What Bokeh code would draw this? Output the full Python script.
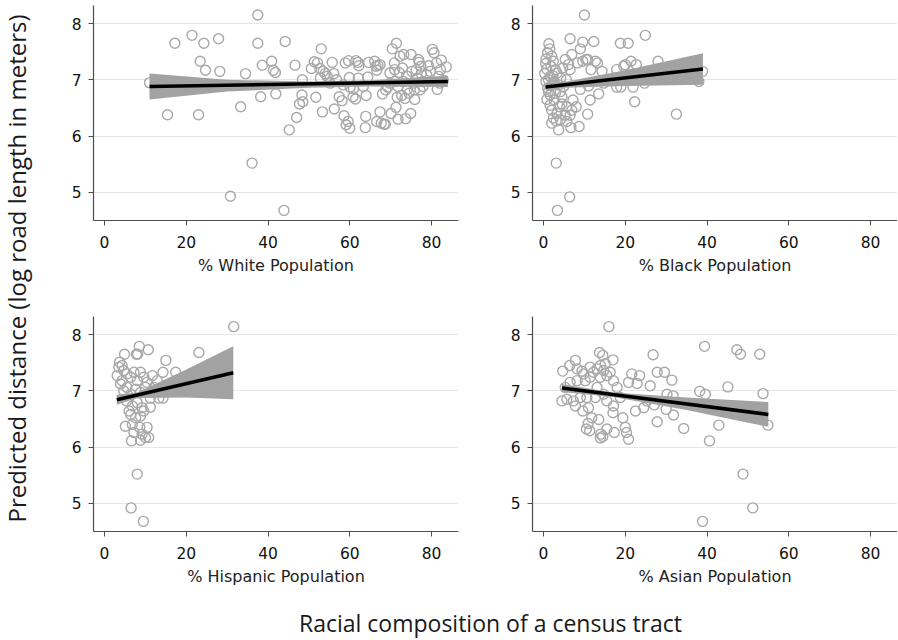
from bokeh.plotting import figure
from bokeh.layouts import row, column
from bokeh.models import Label, FixedTicker, Range1d
from bokeh.embed import file_html
from bokeh.resources import INLINE

# ---------------- data ----------------
x_ticks = [0, 20, 40, 60, 80]
y_ticks = [5, 6, 7, 8]

white_x = [37.5, 21.4, 17.2, 24.3, 27.9, 37.5, 44.2, 53.0, 23.4, 24.7, 28.2, 34.5, 38.6, 40.9, 41.3, 41.8,
           46.6, 11.0, 15.4, 23.0, 33.3, 38.2, 41.9, 36.1, 30.8, 43.9, 45.2, 47.0, 47.7, 48.5, 48.3, 48.4,
           50.6, 51.3, 52.1, 52.7, 51.7, 53.3, 53.5, 54.0, 54.5, 55.7, 56.1, 56.2, 57.4, 58.1, 58.6, 59.1,
           59.6, 60.0, 58.9, 59.7, 59.9, 60.1, 60.8, 60.9, 61.4, 61.5, 62.0, 62.2, 62.1, 63.3, 64.0, 63.9,
           63.8, 64.4, 64.6, 66.1, 66.4, 66.6, 66.9, 66.6, 67.4, 67.4, 67.7, 68.0, 68.4, 68.7, 68.8, 69.3,
           69.8, 70.1, 70.4, 70.9, 71.0, 71.1, 71.3, 71.4, 71.6, 71.8, 71.8, 72.1, 72.3, 72.7, 72.9, 73.2,
           73.5, 73.7, 73.9, 74.1, 74.5, 74.9, 75.0, 75.2, 75.5, 75.8, 75.9, 76.2, 76.5, 76.8, 77.0, 77.2,
           77.4, 77.5, 77.9, 78.8, 79.3, 79.7, 80.2, 80.6, 81.2, 81.4, 81.8, 82.2, 82.4, 82.9, 83.6, 82.0,
           52.8, 55.2, 56.8, 58.4, 69.8, 73.1, 77.9]
white_y = [8.15, 7.79, 7.65, 7.65, 7.73, 7.65, 7.68, 7.55, 7.33, 7.17, 7.15, 7.11, 7.26, 7.33, 7.17, 7.13,
           7.26, 6.95, 6.38, 6.38, 6.52, 6.70, 6.75, 5.52, 4.93, 4.68, 6.11, 6.33, 6.57, 6.61, 6.73, 7.00,
           7.20, 7.32, 7.30, 7.20, 6.69, 6.43, 7.15, 7.11, 7.06, 7.31, 7.11, 6.48, 6.70, 6.63, 6.36, 6.20,
           6.26, 6.14, 7.30, 7.34, 7.04, 6.87, 6.70, 6.84, 6.66, 7.34, 7.31, 7.25, 7.03, 6.88, 6.72, 6.35,
           6.15, 7.05, 7.31, 7.33, 7.24, 7.17, 7.26, 6.26, 7.27, 6.43, 6.23, 6.75, 6.21, 6.21, 6.82, 6.87,
           7.12, 6.40, 7.55, 7.30, 7.18, 6.97, 6.51, 7.65, 6.69, 6.88, 6.30, 7.13, 7.42, 6.72, 7.21, 7.45,
           6.67, 6.31, 7.07, 6.83, 6.76, 6.40, 7.45, 7.15, 6.94, 6.82, 6.65, 7.18, 7.03, 7.36, 7.31, 6.82,
           7.24, 7.11, 6.97, 7.09, 7.25, 7.15, 7.54, 7.48, 7.30, 6.83, 7.06, 7.18, 7.35, 6.99, 7.23, 6.94,
           7.03, 6.94, 7.00, 6.91, 6.94, 6.97, 6.88]

black_x = [10.0, 6.5, 9.6, 12.3, 18.8, 20.7, 24.9, 1.3, 1.5, 1.0, 0.6, 0.5, 0.8, 0.3, 0.6, 1.0,
           0.8, 1.6, 2.0, 2.3, 1.8, 2.4, 2.9, 2.6, 2.0, 2.4, 2.0, 3.1, 3.7, 3.3, 3.9, 3.1,
           6.4, 3.4, 4.5, 4.9, 4.2, 4.7, 5.3, 6.1, 6.5, 5.6, 5.7, 6.5, 6.7, 6.9, 7.2, 6.9,
           8.0, 8.7, 9.0, 8.3, 9.0, 9.6, 10.4, 10.8, 10.8, 11.0, 11.4, 11.6, 12.7, 13.2, 13.5, 14.3,
           14.7, 17.9, 17.9, 18.9, 19.6, 20.0, 21.4, 21.9, 22.3, 22.7, 24.7, 28.0, 32.5, 38.9, 38.0, 28.6,
           23.7, 1.2, 1.6, 2.4, 3.3, 3.7, 4.1, 2.9, 1.6, 1.2, 2.0, 2.6, 4.5, 5.3, 4.1, 5.7]
black_y = [8.15, 7.73, 7.67, 7.68, 7.65, 7.65, 7.79, 7.64, 7.55, 7.48, 7.37, 7.29, 7.19, 7.11, 6.97, 6.85,
           6.65, 6.73, 6.91, 7.07, 7.24, 7.33, 7.18, 6.64, 6.46, 6.32, 6.23, 6.27, 6.11, 6.40, 6.52, 5.52,
           4.92, 4.68, 6.70, 6.88, 7.03, 7.21, 7.36, 7.27, 7.18, 7.00, 6.52, 6.37, 6.15, 6.46, 6.64, 7.45,
           6.52, 6.17, 7.55, 7.30, 6.83, 7.33, 7.36, 7.36, 6.39, 6.89, 6.64, 7.18, 7.33, 7.30, 6.75, 7.15,
           6.94, 7.18, 6.87, 6.87, 7.24, 7.27, 7.33, 6.87, 6.61, 7.27, 6.94, 7.33, 6.39, 7.15, 6.97, 7.06,
           7.00, 7.00, 7.06, 6.94, 7.12, 6.91, 6.79, 6.76, 6.55, 6.79, 7.42, 6.97, 6.57, 6.37, 6.29, 6.26]

hisp_x = [31.6, 23.1, 8.5, 7.8, 8.1, 10.7, 4.9, 15.0, 17.4, 14.3, 11.7, 3.1, 3.7, 4.3, 4.7, 5.5,
          6.4, 7.2, 8.8, 9.6, 10.4, 12.9, 13.3, 14.3, 11.2, 3.9, 4.7, 5.5, 6.4, 7.6, 8.8, 10.0,
          5.4, 6.8, 8.0, 9.2, 11.2, 6.4, 7.6, 8.8, 5.1, 6.8, 8.6, 10.4, 7.2, 9.2, 6.6, 8.8,
          10.0, 10.8, 8.0, 6.5, 9.5, 3.5, 4.3, 8.0, 9.6, 6.0, 12.1]
hisp_y = [8.14, 7.68, 7.79, 7.65, 7.65, 7.73, 7.65, 7.54, 7.33, 7.33, 7.27, 7.27, 7.51, 7.45, 7.36, 7.30,
          7.24, 7.33, 7.33, 7.24, 7.15, 7.18, 6.87, 6.87, 6.87, 7.12, 7.00, 7.06, 6.94, 7.03, 6.97, 7.06,
          6.82, 6.73, 6.79, 6.70, 6.71, 6.58, 6.52, 6.55, 6.37, 6.40, 6.35, 6.35, 6.26, 6.23, 6.11, 6.12,
          6.17, 6.17, 5.52, 4.92, 4.68, 7.42, 7.18, 7.18, 6.64, 6.64, 7.06]

asian_x = [16.0, 39.4, 47.3, 48.2, 52.9, 26.8, 13.7, 14.5, 17.0, 7.8, 6.4, 4.7, 8.2, 9.4, 27.8, 29.6,
           21.6, 23.5, 31.4, 20.8, 22.9, 26.1, 45.1, 38.2, 39.6, 53.7, 31.7, 27.1, 24.5, 30.0, 31.8, 22.5,
           27.8, 34.3, 42.9, 54.9, 40.6, 48.8, 51.2, 38.9, 17.1, 17.0, 19.4, 20.0, 20.3, 20.8, 17.3, 15.5,
           14.0, 13.9, 14.5, 13.5, 10.9, 10.5, 11.3, 9.6, 11.0, 11.8, 4.5, 5.7, 7.3, 9.0, 7.8, 5.3,
           6.5, 8.2, 10.2, 11.4, 12.2, 13.1, 13.9, 14.7, 15.5, 16.3, 17.1, 13.9, 13.1, 14.7, 12.7, 15.5,
           10.6, 18.0, 18.8, 25.3, 30.2, 11.4, 15.1, 9.8]
asian_y = [8.14, 7.79, 7.73, 7.65, 7.65, 7.64, 7.68, 7.63, 7.55, 7.54, 7.45, 7.35, 7.39, 7.35, 7.33, 7.33,
           7.30, 7.27, 7.19, 7.15, 7.13, 7.09, 7.07, 6.99, 6.94, 6.95, 6.91, 6.75, 6.70, 6.67, 6.57, 6.64,
           6.45, 6.33, 6.39, 6.39, 6.11, 5.52, 4.92, 4.68, 6.73, 6.61, 6.52, 6.35, 6.26, 6.14, 6.26, 6.32,
           6.23, 6.16, 6.19, 6.49, 6.42, 6.32, 6.29, 6.64, 6.70, 6.52, 6.82, 6.85, 6.82, 6.88, 6.73, 7.06,
           7.15, 7.18, 7.18, 7.24, 7.33, 7.39, 7.45, 7.36, 7.27, 7.33, 7.18, 7.24, 7.06, 6.94, 6.88, 6.82,
           6.88, 7.06, 6.88, 6.82, 6.94, 7.42, 7.48, 7.30]

# fitted lines (end points) and confidence band knots
white_line_x = [11.0, 84.0]
white_line_y = [6.88, 6.97]
white_band_x = [11.0, 30.0, 50.0, 65.0, 84.0]
white_band_lo = [6.65, 6.79, 6.86, 6.88, 6.87]
white_band_hi = [7.11, 7.00, 6.97, 6.99, 7.07]

black_line_x = [0.5, 39.0]
black_line_y = [6.87, 7.19]
black_band_x = [0.5, 5.0, 20.0, 39.0]
black_band_lo = [6.81, 6.86, 6.89, 6.91]
black_band_hi = [6.93, 6.96, 7.17, 7.47]

hisp_line_x = [3.0, 31.5]
hisp_line_y = [6.84, 7.32]
hisp_band_x = [3.0, 8.0, 20.0, 31.5]
hisp_band_lo = [6.75, 6.87, 6.88, 6.85]
hisp_band_hi = [6.93, 6.97, 7.38, 7.79]

asian_line_x = [4.5, 55.0]
asian_line_y = [7.05, 6.58]
asian_band_x = [4.5, 17.0, 35.0, 55.0]
asian_band_lo = [6.98, 6.89, 6.66, 6.36]
asian_band_hi = [7.12, 6.97, 6.88, 6.80]

x_labels = ["% White Population", "% Black Population", "% Hispanic Population", "% Asian Population"]
y_title = "Predicted distance (log road length in meters)"
x_title = "Racial composition of a census tract"

# ---------------- styling / layout ----------------
FONT = "DejaVu Sans"
BIG_FONT = "Open Sans"
FRAME_W = 365
FRAME_H = 215


def panel(xs, ys, lx, ly, bx, blo, bhi, xlabel, left, right, top, bottom):
    p = figure(width=left + FRAME_W + right, height=top + FRAME_H + bottom,
               x_range=Range1d(-2.7, 86.6), y_range=Range1d(4.5, 8.32),
               output_backend="svg", toolbar_location=None, title=None,
               min_border_left=left, min_border_right=right,
               min_border_top=top, min_border_bottom=bottom)
    p.outline_line_color = None
    p.background_fill_color = "white"
    p.xgrid.visible = False
    p.ygrid.grid_line_color = "#e6e6e6"
    p.ygrid.grid_line_width = 1.2
    p.scatter(xs, ys, marker="circle", size=10, fill_color=None,
              line_color="#a8a8a8", line_width=1.4)
    p.varea(x=bx, y1=blo, y2=bhi, fill_color="#a2a2a2")
    p.line(lx, ly, line_color="black", line_width=3.5)

    p.xaxis.ticker = FixedTicker(ticks=x_ticks)
    p.yaxis.ticker = FixedTicker(ticks=y_ticks)
    for ax in (p.xaxis[0], p.yaxis[0]):
        ax.axis_line_color = "#4d4d4d"
        ax.axis_line_width = 1.2
        ax.major_tick_line_color = "#4d4d4d"
        ax.major_tick_out = 5
        ax.major_tick_in = 0
        ax.minor_tick_line_color = None
        ax.major_label_text_font = FONT
        ax.major_label_text_font_size = "15.5px"
        ax.major_label_text_color = "#111111"
    p.xaxis.major_label_standoff = 10
    p.yaxis.major_label_standoff = 7
    p.xaxis.axis_label = xlabel
    p.xaxis.axis_label_text_font = FONT
    p.xaxis.axis_label_text_font_style = "normal"
    p.xaxis.axis_label_text_font_size = "16px"
    p.xaxis.axis_label_text_color = "#222222"
    p.xaxis.axis_label_standoff = 5
    return p


# top row: frame at y 5..220; bottom row: frame at y 316..531
p1 = panel(white_x, white_y, white_line_x, white_line_y, white_band_x, white_band_lo, white_band_hi,
           x_labels[0], 48, 29, 5, 80)
p2 = panel(black_x, black_y, black_line_x, black_line_y, black_band_x, black_band_lo, black_band_hi,
           x_labels[1], 45, 0, 5, 80)
p3 = panel(hisp_x, hisp_y, hisp_line_x, hisp_line_y, hisp_band_x, hisp_band_lo, hisp_band_hi,
           x_labels[2], 48, 29, 16, 59)
p4 = panel(asian_x, asian_y, asian_line_x, asian_line_y, asian_band_x, asian_band_lo, asian_band_hi,
           x_labels[3], 45, 0, 16, 59)


def blank(w, h):
    f = figure(width=w, height=h, x_range=Range1d(0, w), y_range=Range1d(0, h),
               output_backend="svg", toolbar_location=None, title=None,
               min_border=0)
    f.outline_line_color = None
    f.xaxis.visible = False
    f.yaxis.visible = False
    f.xgrid.visible = False
    f.ygrid.visible = False
    return f


ylab = blank(45, 590)
ylab.add_layout(Label(x=16, y=322, text=y_title, angle=1.5707963, text_align="center",
                      text_baseline="middle", text_font=BIG_FONT, text_font_size="24px",
                      text_color="#1a1a1a"))

xlab = blank(897, 48)
xlab.add_layout(Label(x=490, y=16, text=x_title, text_align="center",
                      text_baseline="middle", text_font=BIG_FONT, text_font_size="23px",
                      text_color="#1a1a1a"))

grid = column(row(p1, p2), row(p3, p4))
layout = column(row(ylab, grid), xlab)

open("out.html", "w").write(file_html(layout, INLINE))
